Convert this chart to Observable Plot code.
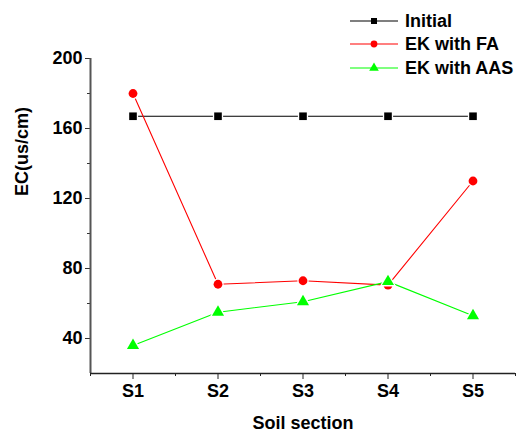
<!DOCTYPE html>
<html><head><meta charset="utf-8">
<script src="https://cdn.jsdelivr.net/npm/d3@7"></script>
<script src="https://cdn.jsdelivr.net/npm/@observablehq/plot@0.6"></script>
<style>
body{margin:0;background:#fff;font-family:"Liberation Sans",Arial,sans-serif}
#wrap{position:relative;width:517px;height:432px}
#legend{position:absolute;left:0;top:0}
</style>
</head><body><div id="wrap"></div>
<script>
const sections = ["S1","S2","S3","S4","S5"];
const initial = [167,167,167,167,167];
const ekFA = [180,71,73,70.5,130];
const ekAAS = [36,55,61,72.5,53];
const seriesNames = ["Initial","EK with FA","EK with AAS"];
const seriesColors = ["#000000","#ff0000","#00ff00"];
const seriesSymbols = ["square","circle","triangle"];
const yTicks = [40,80,120,160,200];
const yMinor = [60,100,140,180];
const xLabel = "Soil section";
const yLabel = "EC(us/cm)";

const seriesValues = [initial, ekFA, ekAAS];
const rows = [];
seriesNames.forEach((s, k) => seriesValues[k].forEach((v, i) => rows.push({series: s, x: i + 1, section: sections[i], value: v})));
const xMajor = sections.map((_, i) => i + 1);
const xMinorTicks = d3.range(0, sections.length + 1).map(i => i + 0.5);
const xDomain = [0.5, sections.length + 0.5];
const font = {fontSize: 18, fontWeight: "bold"};

const seriesMarks = seriesNames.flatMap((s, k) => {
  const d = rows.filter(r => r.series === s);
  return [
    Plot.line(d, {x: "x", y: "value", stroke: seriesColors[k], strokeWidth: 1.1}),
    Plot.dot(d, {x: "x", y: "value", symbol: () => seriesSymbols[k], fill: seriesColors[k],
      r: k === 2 ? 4.5 : (k === 1 ? 4.4 : 4.3), stroke: "#fff", strokeWidth: 2.6, paintOrder: "stroke"})
  ];
});

const chart = Plot.plot({
  width: 517, height: 432,
  marginLeft: 90, marginRight: 2, marginTop: 58, marginBottom: 59,
  style: {fontFamily: '"Liberation Sans", Arial, sans-serif', background: "#fff"},
  x: {type: "linear", domain: xDomain},
  y: {domain: [20, 200]},
  symbol: {type: "identity"},
  marks: [
    Plot.axisY(yTicks, {tickSize: 5, tickPadding: 3, ...font, fill: "#000", stroke: "#333", label: null}),
    Plot.axisY(yMinor, {tickSize: 3, tickFormat: () => "", stroke: "#333", label: null}),
    Plot.axisX(xMajor, {tickSize: 6, tickPadding: 5, ...font, fill: "#000", stroke: "#222", tickFormat: i => sections[i - 1], label: null}),
    Plot.axisX(xMinorTicks, {tickSize: 3, tickFormat: () => "", stroke: "#222", label: null}),
    Plot.ruleX([xDomain[0]], {y1: 20, y2: 200, stroke: "#555", strokeWidth: 2}),
    Plot.ruleY([20], {x1: xDomain[0], x2: xDomain[1], stroke: "#222", strokeWidth: 1.5}),
    ...seriesMarks,
    Plot.text([xLabel], {frameAnchor: "bottom", dy: 50, lineAnchor: "middle", ...font, fill: "#000"}),
    Plot.text([yLabel], {frameAnchor: "left", dx: -68, dy: -20, rotate: -90, lineAnchor: "middle", ...font, fill: "#000"})
  ]
});
const wrap = document.getElementById("wrap");
wrap.appendChild(chart);

// legend overlay
const lg = d3.select(wrap).append("svg").attr("id", "legend").attr("width", 517).attr("height", 90)
  .style("font-family", '"Liberation Sans", Arial, sans-serif');
const rowY = [21, 44, 68];
seriesNames.forEach((s, k) => {
  const g = lg.append("g").attr("transform", `translate(0,${rowY[k]})`);
  g.append("line").attr("x1", 350).attr("x2", 398).attr("stroke", seriesColors[k]).attr("stroke-width", 1.1);
  const sym = {square: d3.symbolSquare, circle: d3.symbolCircle, triangle: d3.symbolTriangle}[seriesSymbols[k]];
  const size = {square: 36, circle: 36, triangle: 40}[seriesSymbols[k]];
  g.append("path").attr("transform", "translate(374,0)").attr("d", d3.symbol(sym, size)()).attr("fill", seriesColors[k]);
  g.append("text").attr("x", 405).attr("dy", "0.36em").attr("font-size", 18).attr("font-weight", "bold").text(s);
});
</script>
</body></html>
